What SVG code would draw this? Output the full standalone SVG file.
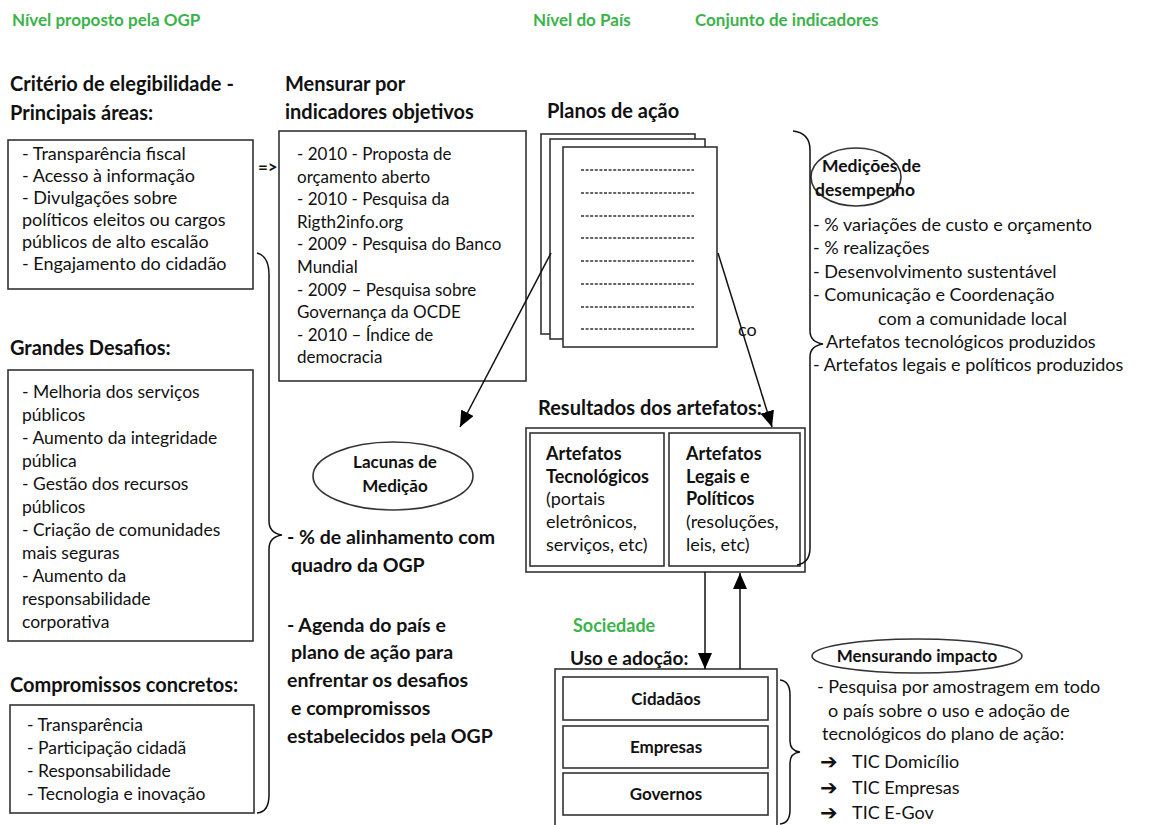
<svg xmlns="http://www.w3.org/2000/svg" width="1160" height="825" viewBox="0 0 1160 825">
<style>
text{font-family:Lato,"Liberation Sans",sans-serif;fill:#111}
.g{fill:#3cb34a;font-weight:bold;font-size:17px}
.h{font-weight:bold;font-size:20px}
.hb{font-weight:bold;font-size:19.5px}
.t{font-size:18px}
.t2{font-size:17px}
.t3{font-size:17.5px}
.b{font-weight:bold;font-size:17px}
.b2{font-weight:bold;font-size:18px}
.box{fill:#fff;stroke:#333;stroke-width:1.6}
.ln{fill:none;stroke:#111;stroke-width:1.5}
.dash{stroke:#333;stroke-width:1.3;stroke-dasharray:3 1.6}
.c{text-anchor:middle}
.arr{font-family:"DejaVu Sans",sans-serif;font-size:21px;font-weight:bold}
</style>
<defs>
<marker id="ah" viewBox="0 0 16 14" refX="16" refY="7" markerWidth="16" markerHeight="14" markerUnits="userSpaceOnUse" orient="auto">
<path d="M0,0 L16,7 L0,14 Z" fill="#000"/>
</marker>
</defs>
<rect width="1160" height="825" fill="#fff"/>

<g id="headers">
<text class="g" x="12" y="26">Nível proposto pela OGP</text>
<text class="g" x="533" y="26">Nível do País</text>
<text class="g" x="695" y="26">Conjunto de indicadores</text>
</g>

<g id="criterio">
<text class="h" x="10" y="91">Critério de elegibilidade -</text>
<text class="h" x="10" y="120">Principais áreas:</text>
<rect class="box" x="8" y="140" width="245" height="149"/>
<text class="t" x="22" y="160">- Transparência fiscal</text>
<text class="t" x="22" y="182">- Acesso à informação</text>
<text class="t" x="22" y="204">- Divulgações sobre</text>
<text class="t" x="22" y="226">políticos eleitos ou cargos</text>
<text class="t" x="22" y="248">públicos de alto escalão</text>
<text class="t" x="22" y="270">- Engajamento do cidadão</text>
</g>

<g id="arrow-text">
<text class="b" x="258" y="173">=&gt;</text>
</g>

<g id="mensurar">
<text class="h" x="285" y="91">Mensurar por</text>
<text class="h" x="285" y="119">indicadores objetivos</text>
<rect class="box" x="279" y="131" width="247" height="250"/>
<text class="t2" x="297" y="160">- 2010 - Proposta de</text>
<text class="t2" x="297" y="183">orçamento aberto</text>
<text class="t2" x="297" y="205">- 2010 - Pesquisa da</text>
<text class="t2" x="297" y="228">Rigth2info.org</text>
<text class="t2" x="297" y="250">- 2009 - Pesquisa do Banco</text>
<text class="t2" x="297" y="273">Mundial</text>
<text class="t2" x="297" y="296">- 2009 – Pesquisa sobre</text>
<text class="t2" x="297" y="318">Governança da OCDE</text>
<text class="t2" x="297" y="341">- 2010 – Índice de</text>
<text class="t2" x="297" y="363">democracia</text>
</g>

<g id="planos">
<text class="h" x="547" y="118">Planos de ação</text>
<rect class="box" x="541" y="134" width="154" height="200"/>
<rect class="box" x="550" y="139" width="155" height="200"/>
<rect class="box" x="563" y="147" width="154" height="200"/>
<line class="dash" x1="581" y1="170" x2="694" y2="170"/>
<line class="dash" x1="581" y1="193" x2="694" y2="193"/>
<line class="dash" x1="581" y1="216" x2="694" y2="216"/>
<line class="dash" x1="581" y1="238" x2="694" y2="238"/>
<line class="dash" x1="581" y1="261" x2="694" y2="261"/>
<line class="dash" x1="581" y1="284" x2="694" y2="284"/>
<line class="dash" x1="581" y1="307" x2="694" y2="307"/>
<line class="dash" x1="581" y1="329" x2="694" y2="329"/>
</g>

<g id="desafios">
<text class="h" x="10" y="355">Grandes Desafios:</text>
<rect class="box" x="8" y="370" width="245" height="271"/>
<text class="t3" x="22" y="398">- Melhoria dos serviços</text>
<text class="t3" x="22" y="421">públicos</text>
<text class="t3" x="22" y="444">- Aumento da integridade</text>
<text class="t3" x="22" y="467">pública</text>
<text class="t3" x="22" y="490">- Gestão dos recursos</text>
<text class="t3" x="22" y="513">públicos</text>
<text class="t3" x="22" y="536">- Criação de comunidades</text>
<text class="t3" x="22" y="559">mais seguras</text>
<text class="t3" x="22" y="582">- Aumento da</text>
<text class="t3" x="22" y="605">responsabilidade</text>
<text class="t3" x="22" y="628">corporativa</text>
</g>

<g id="compromissos">
<text class="h" x="10" y="692">Compromissos concretos:</text>
<rect class="box" x="10" y="705" width="244" height="108"/>
<text class="t3" x="27" y="731">- Transparência</text>
<text class="t3" x="27" y="754">- Participação cidadã</text>
<text class="t3" x="27" y="777">- Responsabilidade</text>
<text class="t3" x="27" y="800">- Tecnologia e inovação</text>
</g>

<g id="lacunas">
<ellipse cx="393" cy="476" rx="80" ry="34" class="box"/>
<text class="b c" x="395" y="468">Lacunas de</text>
<text class="b c" x="395" y="492">Medição</text>
<text class="hb" x="287" y="544">- % de alinhamento com</text>
<text class="hb" x="291" y="572">quadro da OGP</text>
<text class="hb" x="287" y="632">- Agenda do país e</text>
<text class="hb" x="291" y="659">plano de ação para</text>
<text class="hb" x="287" y="687">enfrentar os desafios</text>
<text class="hb" x="291" y="715">e compromissos</text>
<text class="hb" x="287" y="743">estabelecidos pela OGP</text>
</g>

<g id="resultados">
<text class="h" x="538" y="415">Resultados dos artefatos:</text>
<rect class="box" x="526" y="428" width="279" height="144"/>
<rect class="box" x="530" y="433" width="134" height="133"/>
<rect class="box" x="669" y="433" width="131" height="133"/>
<text class="b2" x="546" y="460">Artefatos</text>
<text class="b2" x="546" y="483">Tecnológicos</text>
<text class="t" x="546" y="505">(portais</text>
<text class="t" x="546" y="528">eletrônicos,</text>
<text class="t" x="546" y="551">serviços, etc)</text>
<text class="b2" x="686" y="460">Artefatos</text>
<text class="b2" x="686" y="483">Legais e</text>
<text class="b2" x="686" y="505">Políticos</text>
<text class="t" x="686" y="528">(resoluções,</text>
<text class="t" x="686" y="551">leis, etc)</text>
</g>

<g id="sociedade">
<text class="g" x="573" y="632" style="font-size:18px">Sociedade</text>
<text class="h" x="570" y="665" style="font-size:19px">Uso e adoção:</text>
<rect class="box" x="555" y="669" width="222" height="170"/>
<rect class="box" x="563" y="677" width="205" height="43"/>
<rect class="box" x="563" y="726" width="205" height="42"/>
<rect class="box" x="563" y="773" width="205" height="42"/>
<text class="b c" x="666" y="705">Cidadãos</text>
<text class="b c" x="666" y="753">Empresas</text>
<text class="b c" x="666" y="800">Governos</text>
</g>

<g id="medicoes">
<ellipse cx="856" cy="177" rx="45" ry="29" class="box" style="fill:none"/>
<text class="b" x="822" y="172" style="font-size:17.5px">Medições de</text>
<text class="b" x="815" y="196" style="font-size:17.5px">desempenho</text>
<text class="t" x="813" y="231">- % variações de custo e orçamento</text>
<text class="t" x="813" y="254">- % realizações</text>
<text class="t" x="813" y="278">- Desenvolvimento sustentável</text>
<text class="t" x="813" y="301">- Comunicação e Coordenação</text>
<text class="t" x="878" y="325">com a comunidade local</text>
<text class="t" x="826" y="348">Artefatos tecnológicos produzidos</text>
<text class="t" x="813" y="371">- Artefatos legais e políticos produzidos</text>
<text class="t" x="738" y="336">co</text>
</g>

<g id="impacto">
<ellipse cx="917" cy="656" rx="105" ry="17" class="box" style="fill:none"/>
<text class="b c" x="917" y="662">Mensurando impacto</text>
<text class="t" x="817" y="693">- Pesquisa por amostragem em todo</text>
<text class="t" x="828" y="717">o país sobre o uso e adoção de</text>
<text class="t" x="822" y="740">tecnológicos do plano de ação:</text>
<text class="arr" x="820" y="769">➔</text>
<text class="t" x="852" y="768">TIC Domicílio</text>
<text class="arr" x="820" y="795">➔</text>
<text class="t" x="852" y="794">TIC Empresas</text>
<text class="arr" x="820" y="820">➔</text>
<text class="t" x="852" y="819">TIC E-Gov</text>
</g>

<g id="connectors">
<path class="ln" d="M257,253 Q269,256 269,275 L269,521 Q269,533 282,535 Q269,537 269,549 L269,795 Q269,812 257,813"/>
<path class="ln" d="M793,131 Q810,133 810,150 L810,331 Q810,342 823,344 Q810,346 810,357 L810,548 Q810,563 797,565"/>
<path class="ln" d="M780,680 Q790,681 790,695 L790,741 Q790,751 800,752 Q790,753 790,763 L790,810 Q790,823 780,824"/>
<line class="ln" x1="551" y1="253" x2="460" y2="427" marker-end="url(#ah)"/>
<line class="ln" x1="718" y1="253" x2="772" y2="427" marker-end="url(#ah)"/>
<line class="ln" x1="705" y1="572" x2="705" y2="669" marker-end="url(#ah)"/>
<line class="ln" x1="740" y1="669" x2="740" y2="573" marker-end="url(#ah)"/>
</g>
</svg>
